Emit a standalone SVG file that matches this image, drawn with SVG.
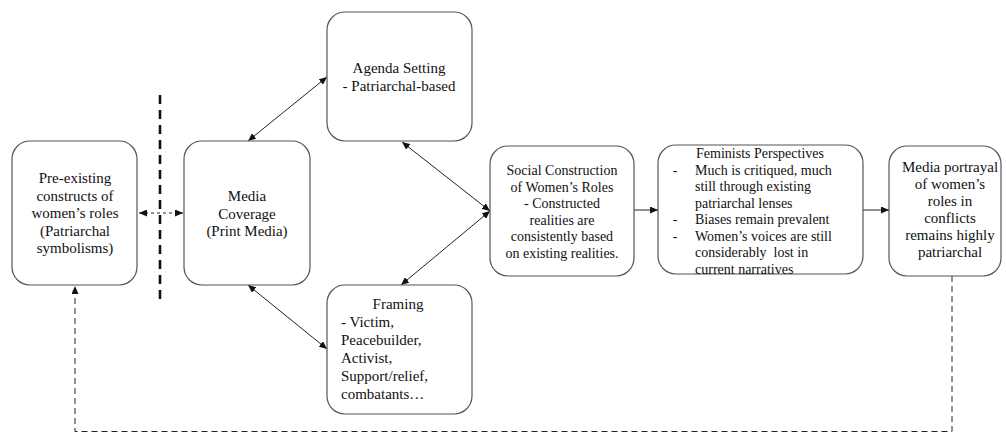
<svg xmlns="http://www.w3.org/2000/svg" width="1006" height="433" viewBox="0 0 1006 433">
<style>
.box{fill:#fff;stroke:#555;stroke-width:1.2}
.t{font-family:"Liberation Serif","Times New Roman",serif;fill:#111}
.c15{font-size:15px;text-anchor:middle}
.c14{font-size:14px;text-anchor:middle}
.l15{font-size:15px}
.l14{font-size:14px}
.ln{fill:none;stroke:#222;stroke-width:1}
</style>
<defs>
<marker id="ah" markerUnits="userSpaceOnUse" markerWidth="9" markerHeight="7" refX="8" refY="3.5" orient="auto-start-reverse">
<path d="M0,0 L8,3.5 L0,7 z" fill="#111"/>
</marker>
</defs>
<g id="connectors">
<line class="ln" x1="139" y1="213" x2="183" y2="213" stroke-dasharray="3,3" marker-start="url(#ah)" marker-end="url(#ah)"/>
<line x1="160" y1="95" x2="160" y2="303" stroke="#111" stroke-width="2.6" stroke-dasharray="9,6"/>
<line class="ln" x1="248" y1="141" x2="327" y2="77" marker-start="url(#ah)" marker-end="url(#ah)"/>
<line class="ln" x1="248" y1="285" x2="327" y2="349" marker-start="url(#ah)" marker-end="url(#ah)"/>
<line class="ln" x1="402" y1="142" x2="490" y2="211" marker-start="url(#ah)" marker-end="url(#ah)"/>
<line class="ln" x1="490" y1="211" x2="401" y2="285" marker-start="url(#ah)" marker-end="url(#ah)"/>
<line class="ln" x1="634" y1="210" x2="658" y2="210" marker-end="url(#ah)"/>
<line class="ln" x1="863" y1="210" x2="889" y2="210" marker-end="url(#ah)"/>
<path class="ln" d="M952,276 V431.5 H75 V286" stroke-width="1.5" stroke-dasharray="6,4" marker-end="url(#ah)"/>
</g>
<g id="pre-existing">
<rect class="box" x="12" y="141" width="125" height="144" rx="18"/>
<text class="t c15" x="75" y="183">Pre-existing</text>
<text class="t c15" x="75" y="200.5">constructs of</text>
<text class="t c15" x="75" y="218">women’s roles</text>
<text class="t c15" x="75" y="235.5">(Patriarchal</text>
<text class="t c15" x="75" y="253">symbolisms)</text>
</g>
<g id="media-coverage">
<rect class="box" x="184" y="141" width="126" height="144" rx="18"/>
<text class="t c15" x="247" y="201">Media</text>
<text class="t c15" x="247" y="218.5">Coverage</text>
<text class="t c15" x="247" y="236">(Print Media)</text>
</g>
<g id="agenda-setting">
<rect class="box" x="327" y="12" width="145" height="129" rx="18"/>
<text class="t c15" x="399" y="73">Agenda Setting</text>
<text class="t c15" x="399" y="90.5">- Patriarchal-based</text>
</g>
<g id="framing">
<rect class="box" x="327" y="285" width="145" height="129" rx="18"/>
<text class="t c15" x="398" y="309">Framing</text>
<text class="t l15" x="341" y="327">- Victim,</text>
<text class="t l15" x="341" y="345">Peacebuilder,</text>
<text class="t l15" x="341" y="363">Activist,</text>
<text class="t l15" x="341" y="381">Support/relief,</text>
<text class="t l15" x="341" y="399">combatants…</text>
</g>
<g id="social-construction">
<rect class="box" x="490" y="146" width="144" height="130" rx="18"/>
<text class="t c14" x="562" y="175">Social Construction</text>
<text class="t c14" x="562" y="191.5">of Women’s Roles</text>
<text class="t c14" x="562" y="208">- Constructed</text>
<text class="t c14" x="562" y="224.5">realities are</text>
<text class="t c14" x="562" y="241">consistently based</text>
<text class="t c14" x="562" y="257.5">on existing realities.</text>
</g>
<g id="feminists-perspectives">
<rect class="box" x="658" y="145" width="205" height="129" rx="18"/>
<text class="t c14" x="760" y="157.5">Feminists Perspectives</text>
<text class="t c14" x="675" y="174.5">-</text>
<text class="t l14" x="695" y="174.5">Much is critiqued, much</text>
<text class="t l14" x="695" y="191">still through existing</text>
<text class="t l14" x="695" y="207.5">patriarchal lenses</text>
<text class="t c14" x="675" y="224">-</text>
<text class="t l14" x="695" y="224">Biases remain prevalent</text>
<text class="t c14" x="675" y="240.5">-</text>
<text class="t l14" x="695" y="240.5">Women’s voices are still</text>
<text class="t l14" x="695" y="257" xml:space="preserve">considerably  lost in</text>
<text class="t l14" x="695" y="273.5">current narratives</text>
</g>
<g id="media-portrayal">
<rect class="box" x="889" y="146" width="112" height="130" rx="18"/>
<text class="t c15" x="950" y="172">Media portrayal</text>
<text class="t c15" x="950" y="189">of women’s</text>
<text class="t c15" x="950" y="206">roles in</text>
<text class="t c15" x="950" y="223">conflicts</text>
<text class="t c15" x="950" y="240">remains highly</text>
<text class="t c15" x="950" y="257">patriarchal</text>
</g>
</svg>
